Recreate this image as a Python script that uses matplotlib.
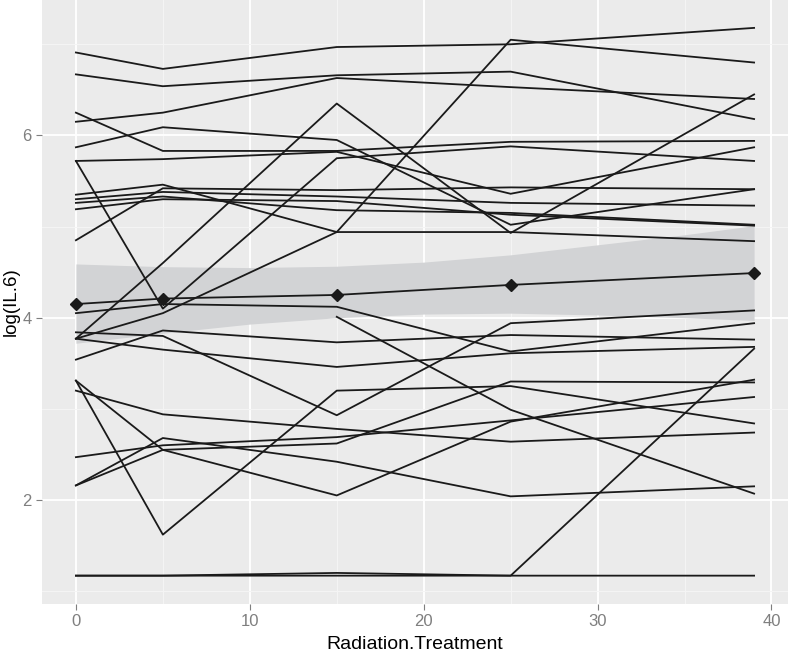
import numpy as np
import matplotlib.pyplot as plt

plt.rcParams['font.family'] = ['Liberation Sans Narrow', 'Liberation Sans', 'DejaVu Sans']

nan = float('nan')

# measurement times
times = [0, 5, 15, 25, 39]

s01 = [6.91, 6.73, 6.97, 7.00, 7.18]
s02 = [6.67, 6.54, 6.66, 6.70, 6.18]
s03 = [6.15, 6.25, 6.63, 6.53, 6.40]
s04 = [6.25, 5.83, 5.83, 5.93, 5.94]
s05 = [5.87, 6.09, 5.95, 5.02, 5.41]
s06 = [5.72, 4.10, 5.75, 5.88, 5.72]
s07 = [5.72, 5.74, 5.82, 5.36, 5.87]
s08 = [5.35, 5.46, 4.94, 4.94, 4.84]
s09 = [4.85, 5.42, 5.40, 5.43, 5.41]
s10 = [5.30, 5.38, 5.33, 5.26, 5.23]
s11 = [5.26, 5.33, 5.18, 5.15, 5.02]
s12 = [5.19, 5.30, 5.28, 5.13, 5.01]
s13 = [3.77, 4.60, 6.35, 4.93, 6.45]
s14 = [3.77, 4.05, 4.94, 7.05, 6.80]
s15 = [4.05, 4.15, 4.12, 3.63, 3.94]
s16 = [nan, nan, 4.01, 2.99, 2.07]
s17 = [3.84, 3.80, 2.93, 3.94, 4.08]
s18 = [3.77, 3.65, 3.46, 3.61, 3.68]
s19 = [3.54, 3.86, 3.73, 3.81, 3.76]
s20 = [3.31, 1.62, 3.20, 3.25, 2.84]
s21 = [3.31, 2.55, 2.05, 2.86, 3.32]
s22 = [3.20, 2.94, 2.78, 2.64, 2.74]
s23 = [2.47, 2.60, 2.69, nan, 3.13]
s24 = [2.16, 2.68, 2.42, 2.04, 2.15]
s25 = [2.16, 2.55, 2.62, 3.30, 3.29]
s26 = [1.17, 1.17, 1.20, 1.17, 1.17]
s27 = [1.17, 1.17, 1.17, 1.17, 3.66]

subjects = [s01, s02, s03, s04, s05, s06, s07, s08, s09, s10, s11, s12, s13, s14,
            s15, s16, s17, s18, s19, s20, s21, s22, s23, s24, s25, s26, s27]

# mean per time point
mean_il6 = [4.15, 4.21, 4.25, 4.36, 4.49]

# confidence band of the fit
band_x = [0, 5, 10, 15, 20, 25, 30, 35, 39]
band_lo = [3.72, 3.83, 3.93, 4.00, 4.04, 4.05, 4.03, 4.00, 3.97]
band_hi = [4.59, 4.56, 4.55, 4.565, 4.61, 4.69, 4.80, 4.91, 5.01]

fig = plt.figure(figsize=(7.9, 6.52), dpi=100)
ax = fig.add_axes([42 / 790, 48 / 652, 746 / 790, 604 / 652])
ax.set_facecolor('#EBEBEB')

ax.set_xticks([0, 10, 20, 30, 40])
ax.set_xticks([5, 15, 25, 35], minor=True)
ax.set_yticks([2, 4, 6])
ax.set_yticks([1, 3, 5, 7], minor=True)
ax.grid(which='major', color='white', lw=1.3, zorder=0)
ax.grid(which='minor', color='#F5F5F5', lw=0.7, zorder=0)
ax.set_axisbelow(True)

ax.fill_between(band_x, band_lo, band_hi, color='#D2D3D5', lw=0, zorder=1)

for s in subjects:
    t = [x for x, v in zip(times, s) if v == v]
    v = [v for v in s if v == v]
    ax.plot(t, v, color='#1a1a1a', lw=1.3, zorder=3)

ax.plot(times, mean_il6, color='#1a1a1a', lw=1.3, marker='D', ms=6.5, zorder=4)

ax.set_xlim(-1.95, 40.95)
ax.set_ylim(0.859, 7.486)
for sp in ax.spines.values():
    sp.set_visible(False)

ax.tick_params(which='major', color='#7F7F7F', length=4, width=0.8,
               labelcolor='#7F7F7F', labelsize=12)
ax.tick_params(which='minor', length=0)

ax.set_xlabel('Radiation.Treatment', fontsize=14, labelpad=5)
ax.set_ylabel('log(IL.6)', fontsize=13.5, labelpad=2)

fig.savefig('out.png', dpi=100)
